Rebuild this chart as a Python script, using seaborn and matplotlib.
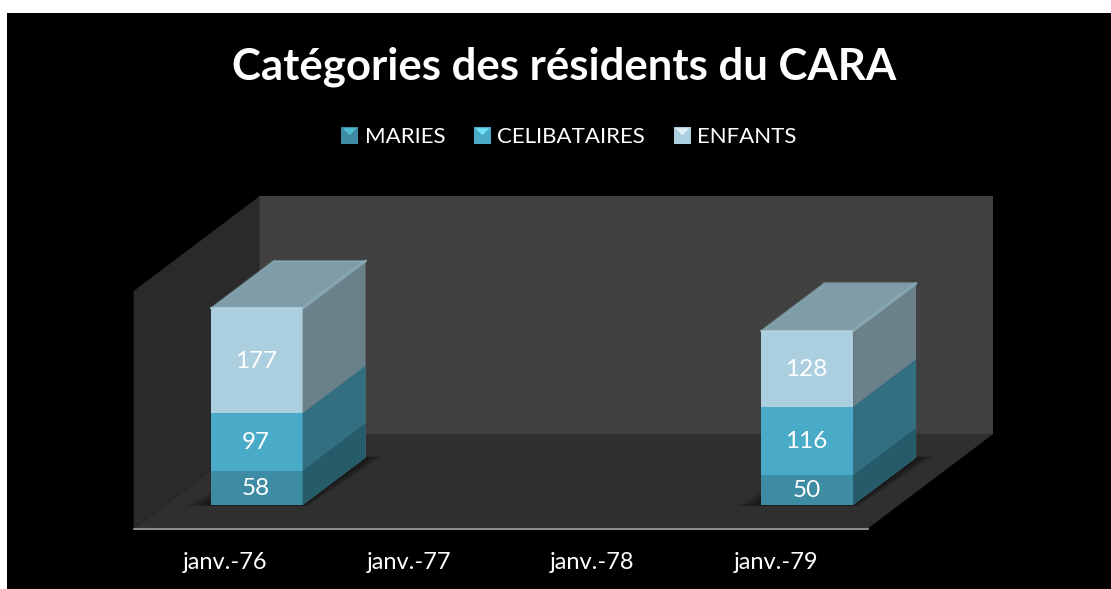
import numpy as np
import pandas as pd
import matplotlib
matplotlib.use('Agg')
import matplotlib.pyplot as plt
import seaborn as sns
from matplotlib.legend_handler import HandlerBase
from matplotlib.patches import Patch, Polygon, Rectangle
from matplotlib.transforms import ScaledTranslation

dates = ['janv.-76', 'janv.-77', 'janv.-78', 'janv.-79']
series = ['MARIES', 'CELIBATAIRES', 'ENFANTS']
maries = [58, np.nan, np.nan, 50]
celibataires = [97, np.nan, np.nan, 116]
enfants = [177, np.nan, np.nan, 128]

front_colors = ['#3e8ba4', '#49abc8', '#abcfdf']
side_colors = ['#265b6a', '#316f81', '#6b818a']
light_colors = ['#52bcd6', '#74e2f6', '#dff1f7']
top_color = '#7f9da9'

W, H = 1111, 589
sns.set_theme(style='white')
plt.rcParams['font.family'] = ['Lato', 'DejaVu Sans']

# pixel position of the plane the bar fronts stand on
left, right, bottom, top = 165, 899, 505, 268
depth_x, depth_y = 0.343, 80

fig = plt.figure(figsize=(W / 100, H / 100), dpi=100, facecolor='white')
fig.patches.append(Rectangle((7 / W, 0), 1, 1 - 13 / H, transform=fig.transFigure,
                             facecolor='black', edgecolor='none', figure=fig, zorder=-1))
ax = fig.add_axes([left / W, 1 - bottom / H, (right - left) / W, (bottom - top) / H])
ax.patch.set_alpha(0)

df = pd.DataFrame({'date': dates, 'MARIES': maries, 'CELIBATAIRES': celibataires, 'ENFANTS': enfants})
stack = df[series].cumsum(axis=1)
stack['date'] = df['date']

# stacking is done by overlay, tallest layer first
layers = []
for i in [2, 1, 0]:
    n = len(ax.patches)
    sns.barplot(data=stack, x='date', y=series[i], order=dates, color=front_colors[i],
                saturation=1, width=0.5, errorbar=None, zorder=3 + (2 - i), linewidth=0, ax=ax)
    layers.append((i, list(ax.patches[n:])))

ax.set_xlim(-0.5, 3.5)
ax.set_ylim(0, 400)


def add_poly(pts, color, z, alpha=None):
    ax.add_patch(Polygon(pts, closed=True, facecolor=color, edgecolor='none', zorder=z,
                         alpha=alpha, clip_on=False))


# walls and floor
x0, x1 = -0.5 - depth_x / 2, 3.5 - depth_x / 2
y0, y1 = -depth_y / 2, 361
bx, by = 2 * depth_x, 2 * depth_y
add_poly([(x0 + bx, y0 + by), (x1 + bx, y0 + by), (x1 + bx, y1 + by), (x0 + bx, y1 + by)], '#404040', 0.1)
add_poly([(x0, y0), (x0 + bx, y0 + by), (x0 + bx, y1 + by), (x0, y1)], '#2a2a2a', 0.2)
add_poly([(x0, y0), (x1, y0), (x1 + bx, y0 + by), (x0 + bx, y0 + by)], '#2f2f2f', 0.3)
ax.plot([x0, x1], [y0, y0], color='#8c8c8c', lw=1.5, clip_on=False, zorder=0.4)

# sides, tops and shadows of the boxes
for i, bars in layers:
    for b in bars:
        if np.isnan(b.get_height()) or b.get_height() == 0:
            continue
        xa, xb, h = b.get_x(), b.get_x() + b.get_width(), b.get_height()
        z = b.get_zorder()
        add_poly([(xb, 0), (xb + depth_x, depth_y), (xb + depth_x, h + depth_y), (xb, h)], side_colors[i], z)
        if i == 2:
            add_poly([(xa, h), (xb, h), (xb + depth_x, h + depth_y), (xa + depth_x, h + depth_y)], top_color, z)
            ax.plot([xa, xb], [h, h], color='#bcd9e4', lw=1.5, alpha=0.7, zorder=z + 5, clip_on=False)
            ax.plot([xb, xb + depth_x], [h, h + depth_y], color='#8fb3bf', lw=2, alpha=0.7, zorder=z + 5,
                    clip_on=False)
            ax.plot([xa, xa + depth_x], [h, h + depth_y], color='#8fb3bf', lw=1.5, alpha=0.5, zorder=z + 5,
                    clip_on=False)
            ax.plot([xa + depth_x, xb + depth_x], [h + depth_y, h + depth_y], color='#8fb3bf', lw=1.5, alpha=0.5,
                    zorder=z + 5, clip_on=False)
            for grow in [0.01, 0.03, 0.05, 0.07, 0.09]:
                gy = grow * 20
                add_poly([(xa - grow * 1.5, -gy), (xb + grow * 0.3, -gy), (xb + depth_x + grow, depth_y + gy),
                          (xa + depth_x, depth_y + gy)], 'black', 0.5, alpha=0.13)

# value labels in the middle of each segment
below = np.zeros(len(dates))
for i, name in enumerate(series):
    vals = df[name].values
    for k in range(len(dates)):
        if not np.isnan(vals[k]):
            ax.text(k - 0.005, below[k] + vals[k] / 2 - 0.5, f'{vals[k]:.0f}', ha='center', va='center',
                    color='white', fontsize=17.5, zorder=20)
            below[k] += vals[k]

sns.despine(ax=ax, left=True, bottom=True)
ax.set_xlabel('')
ax.set_ylabel('')
ax.set_yticks([])
ax.tick_params(axis='x', length=0, pad=34, colors='white', labelsize=17)
shift = ScaledTranslation(-31.5 / 100, 0, fig.dpi_scale_trans)
for lab in ax.get_xticklabels():
    lab.set_transform(lab.get_transform() + shift)

fig.text(564 / W, 1 - 67 / H, 'Catégories des résidents du CARA', ha='center', va='center',
         color='white', fontsize=31.5, fontweight='bold')


class BevelHandler(HandlerBase):
    def create_artists(self, legend, orig, xd, yd, width, height, fontsize, trans):
        s = 12
        x, y = -xd + (width - s) / 2, -yd + (height - s) / 2
        c = (x + s / 2, y + s / 2)
        body = Rectangle((x, y), s, s, facecolor=orig.get_facecolor(), edgecolor='none', transform=trans)
        tri = Polygon([(x + 1, y + s - 1), (x + s - 1, y + s - 1), c], facecolor=orig.get_edgecolor(),
                      edgecolor='none', transform=trans)
        return [body, tri]


handles = [Patch(facecolor=front_colors[i], edgecolor=light_colors[i]) for i in range(3)]
fig.legend(handles, series, handler_map={Patch: BevelHandler()}, loc='center',
           bbox_to_anchor=(569 / W, 1 - 137 / H), ncol=3, frameon=False, labelcolor='white', fontsize=16,
           handlelength=0.75, handletextpad=0.3, columnspacing=1.3)

fig.savefig('out.png', dpi=100, facecolor=fig.get_facecolor())
